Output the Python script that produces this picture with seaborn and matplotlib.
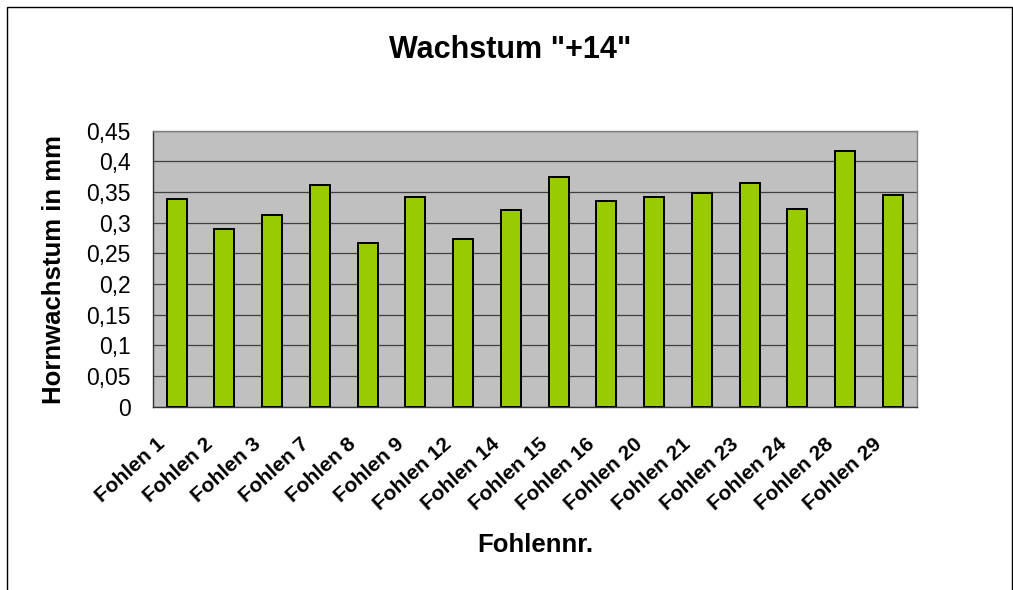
import pandas as pd
import seaborn as sns
import matplotlib.pyplot as plt
import matplotlib.transforms as mtransforms
from matplotlib.patches import Rectangle
from matplotlib.ticker import FuncFormatter, MultipleLocator, FixedLocator

# Data
fohlen = ["Fohlen 1", "Fohlen 2", "Fohlen 3", "Fohlen 7", "Fohlen 8", "Fohlen 9",
          "Fohlen 12", "Fohlen 14", "Fohlen 15", "Fohlen 16", "Fohlen 20", "Fohlen 21",
          "Fohlen 23", "Fohlen 24", "Fohlen 28", "Fohlen 29"]
wachstum = [0.339, 0.290, 0.313, 0.361, 0.267, 0.342,
            0.274, 0.320, 0.375, 0.336, 0.342, 0.349,
            0.365, 0.323, 0.417, 0.345]

df = pd.DataFrame({"Fohlen": fohlen, "Wachstum": wachstum})

sns.set_style("white")
plt.rcParams["font.family"] = ["Liberation Sans", "DejaVu Sans"]
plt.rcParams["text.color"] = "black"
plt.rcParams["xtick.labelcolor"] = "black"
plt.rcParams["ytick.labelcolor"] = "black"

fig = plt.figure(figsize=(10.13, 5.90), dpi=100)
ax = fig.add_axes([0.1507, 0.3107, 0.7543, 0.4678])
ax.set_facecolor("#C0C0C0")

sns.barplot(data=df, x="Fohlen", y="Wachstum", color="#99CC00", width=0.42,
            edgecolor="black", linewidth=1.4, saturation=1, ax=ax, zorder=3)

# Axes and grid
ax.set_xlim(-0.5, len(fohlen) - 0.5)
ax.set_ylim(0, 0.45)
ax.yaxis.set_major_locator(MultipleLocator(0.05))
ax.yaxis.set_major_formatter(FuncFormatter(lambda v, p: f"{v:.2f}".rstrip("0").rstrip(".").replace(".", ",")))
ax.grid(axis="y", color="#404040", linewidth=0.9, zorder=1)
ax.set_axisbelow(True)
ax.set_xlabel("")
ax.set_ylabel("")

for side in ["top", "right"]:
    ax.spines[side].set_color("#808080")
    ax.spines[side].set_linewidth(1)
for side in ["left", "bottom"]:
    ax.spines[side].set_color("#333333")
    ax.spines[side].set_linewidth(1)

ax.tick_params(axis="y", which="major", direction="out", length=7, width=1,
               color="#333333", labelsize=16.5, labelcolor="black", pad=9)
ax.xaxis.set_minor_locator(FixedLocator([i - 0.5 for i in range(len(fohlen) + 1)]))
ax.tick_params(axis="x", which="minor", direction="out", length=5, width=1, color="#333333")
ax.tick_params(axis="x", which="major", length=0, pad=0)

ax.set_xticks(range(len(fohlen)))
ax.set_xticklabels(fohlen, rotation=42, ha="right", va="center",
                   rotation_mode="anchor", fontsize=15, fontweight="bold", color="black")
offset = mtransforms.ScaledTranslation(-14 / 100, -35 / 100, fig.dpi_scale_trans)
for lbl in ax.get_xticklabels():
    lbl.set_transform(lbl.get_transform() + offset)

# Titles
fig.text(0.504, 1 - 50 / 590, 'Wachstum "+14"', ha="center", va="center",
         fontsize=22, fontweight="bold", color="black")
fig.text(54 / 1013, 1 - 269 / 590, "Hornwachstum in mm", ha="center", va="center",
         rotation=90, fontsize=18.5, fontweight="bold", color="black")
fig.text(535.5 / 1013, 1 - 545 / 590, "Fohlennr.", ha="center", va="center",
         fontsize=18.5, fontweight="bold", color="black")

# Chart border
fig.patches.append(Rectangle((6.5 / 1013, -0.1), (1011.5 - 6.5) / 1013, 1.1 - 6.5 / 590,
                             transform=fig.transFigure, fill=False,
                             edgecolor="black", linewidth=1))

fig.savefig("out.png", dpi=100)
